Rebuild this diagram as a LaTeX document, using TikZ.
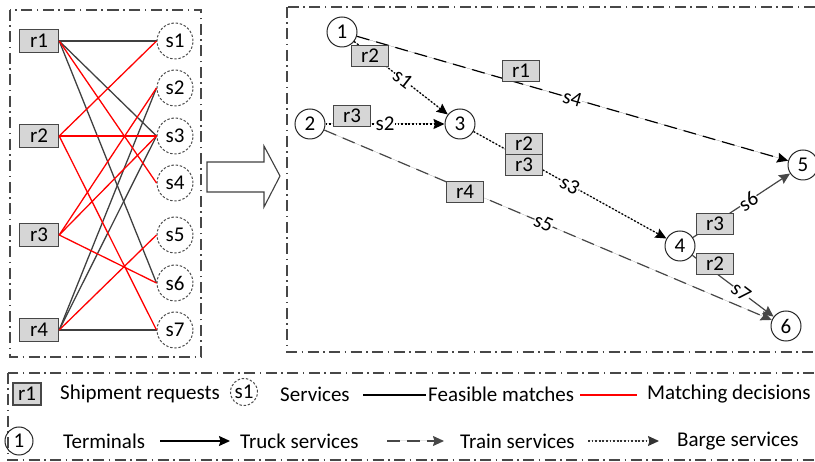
\documentclass[tikz,border=0pt]{standalone}
\usepackage{fontspec}
\setmainfont{Carlito}
\usetikzlibrary{arrows.meta}

\begin{document}
\begin{tikzpicture}[x=1pt, y=-1pt,
  font=\fontsize{21}{24}\selectfont,
  frame/.style={draw=black!72, line width=1.1pt,
    dash pattern=on 11pt off 4.5pt on 1.5pt off 4.5pt},
  req/.style={draw=black!72, fill=black!16, line width=1.4pt,
    minimum width=39pt, minimum height=23pt, inner sep=0pt},
  reqs/.style={req, minimum width=37pt, minimum height=21pt},
  srv/.style={circle, draw=black!70, line width=1pt,
    dash pattern=on 2.4pt off 1.8pt, minimum size=36pt, inner sep=0pt},
  term/.style={circle, draw=black!85, line width=1pt,
    minimum size=30pt, inner sep=0pt},
  fm/.style={draw=black!75, line width=1.3pt},
  md/.style={draw=red, line width=1.3pt},
  tip/.style={-{Stealth[length=11pt, width=10pt, inset=1.5pt]}},
  truck/.style={tip, draw=black!72, line width=1.2pt, fill=black!72},
  train/.style={tip, line width=1.2pt, dash pattern=on 13pt off 7pt},
  barge/.style={tip, draw=black, line width=1.3pt,
    dash pattern=on 1.8pt off 1.8pt},
  lab/.style={sloped, fill=white, inner sep=0.3pt},
  txt/.style={anchor=west, inner sep=0pt}
]
\useasboundingbox (0,0) rectangle (815,462);
\clip (0,0) rectangle (815,462);

% ---------------- left panel: requests and services ----------------
\draw[frame] (10,10) rectangle (201,357);

\node[req] (r1) at (39,41)  {r1};
\node[req] (r2) at (39,136) {r2};
\node[req] (r3) at (39,235) {r3};
\node[req] (r4) at (39,330) {r4};

\node[srv] (s1) at (175,41)  {s1};
\node[srv] (s2) at (175,88)  {s2};
\node[srv] (s3) at (175,136) {s3};
\node[srv] (s4) at (175,183) {s4};
\node[srv] (s5) at (175,235) {s5};
\node[srv] (s6) at (175,283) {s6};
\node[srv] (s7) at (175,330) {s7};

% feasible matches
\draw[fm] (r1.east) -- (s1.west);
\draw[fm] (r1.east) -- (s3.west);
\draw[fm] (r1.east) -- (s6.west);
\draw[fm] (r4.east) -- (s2.west);
\draw[fm] (r4.east) -- (s3.west);
\draw[fm] (r4.east) -- (s7.west);
% matching decisions
\draw[md] (r1.east) -- (s4.west);
\draw[md] (r2.east) -- (s1.west);
\draw[md] (r2.east) -- (s3.west);
\draw[md] (r2.east) -- (s7.west);
\draw[md] (r3.east) -- (s2.west);
\draw[md] (r3.east) -- (s3.west);
\draw[md] (r3.east) -- (s6.west);
\draw[md] (r4.east) -- (s5.west);

% ---------------- transition arrow ----------------
\draw[draw=black!75, line width=1.1pt, fill=white]
  (207,162) -- (264,162) -- (264,146) -- (280,176) -- (264,207)
  -- (264,192) -- (207,192) -- cycle;

% ---------------- right panel: network ----------------
\draw[frame] (287,7) rectangle (840,352);

\node[term] (t1) at (342,32)  {1};
\node[term] (t2) at (310,124) {2};
\node[term] (t3) at (460,124) {3};
\node[term] (t4) at (680,246) {4};
\node[term] (t5) at (803,165) {5};
\node[term] (t6) at (786,326) {6};

\draw[train, draw=black, fill=black] (t1) -- node[lab, pos=0.5] (l4) {s4} (t5);
\draw[train, draw=black!72, fill=black!72] (t2) -- node[lab, pos=0.49] (l5) {s5} (t6);
\draw[barge, fill=black] (t1) -- node[lab, pos=0.52] (l1) {s1} (t3);
\draw[barge, fill=black] (t2) -- node[lab, pos=0.5] (l2) {s2} (t3);
\draw[barge, fill=black] (t3) -- node[lab, pos=0.5] (l3) {s3} (t4);
\draw[truck] (t4) -- node[lab, pos=0.57] (l6) {s6} (t5);
\draw[truck] (t4) -- node[lab, pos=0.6] (l7) {s7} (t6);

\node[reqs] (b1)  at (521,71)  {r1};
\node[reqs] (b2)  at (370,56)  {r2};
\node[reqs] (b3)  at (352,116) {r3};
\node[reqs] (b4)  at (465,192) {r4};
\node[reqs] (b5)  at (524,144) {r2};
\node[reqs] (b6)  at (524,165) {r3};
\node[reqs] (b7)  at (715,224) {r3};
\node[reqs] (b8)  at (715,264) {r2};

% ---------------- legend ----------------
\draw[frame] (8,373) rectangle (840,460);

\node[req, minimum width=28pt, minimum height=22pt] (k1) at (27,394) {r1};
\node[txt] (k1t) at (60,394) {Shipment requests};
\node[srv, minimum size=27pt] (k2) at (244,392) {s1};
\node[txt] (k2t) at (280,394) {Services};
\coordinate (k3a) at (363,395);
\coordinate (k3b) at (426,395);
\draw[draw=black, line width=1.3pt] (k3a) -- (k3b);
\node[txt] (k3t) at (428,394) {Feasible matches};
\coordinate (k4a) at (580,395);
\coordinate (k4b) at (637,395);
\draw[draw=red, line width=1.3pt] (k4a) -- (k4b);
\node[txt] (k4t) at (647,394) {Matching decisions};

\node[term, minimum size=28pt] (k5) at (19,441) {1};
\node[txt] (k5t) at (63,441) {Terminals};
\coordinate (k6a) at (160,441);
\coordinate (k6b) at (230,441);
\draw[tip, draw=black, fill=black, line width=1.3pt] (k6a) -- (k6b);
\node[txt] (k6t) at (240,441) {Truck services};
\coordinate (k7a) at (387,441);
\coordinate (k7b) at (444,441);
\draw[train, draw=black!72, fill=black!72] (k7a) -- (k7b);
\node[txt] (k7t) at (460,441) {Train services};
\coordinate (k8a) at (588,441);
\coordinate (k8b) at (659,441);
\draw[barge, draw=black!80, fill=black!72] (k8a) -- (k8b);
\node[txt] (k8t) at (677,441) {Barge services};
\end{tikzpicture}
\end{document}
